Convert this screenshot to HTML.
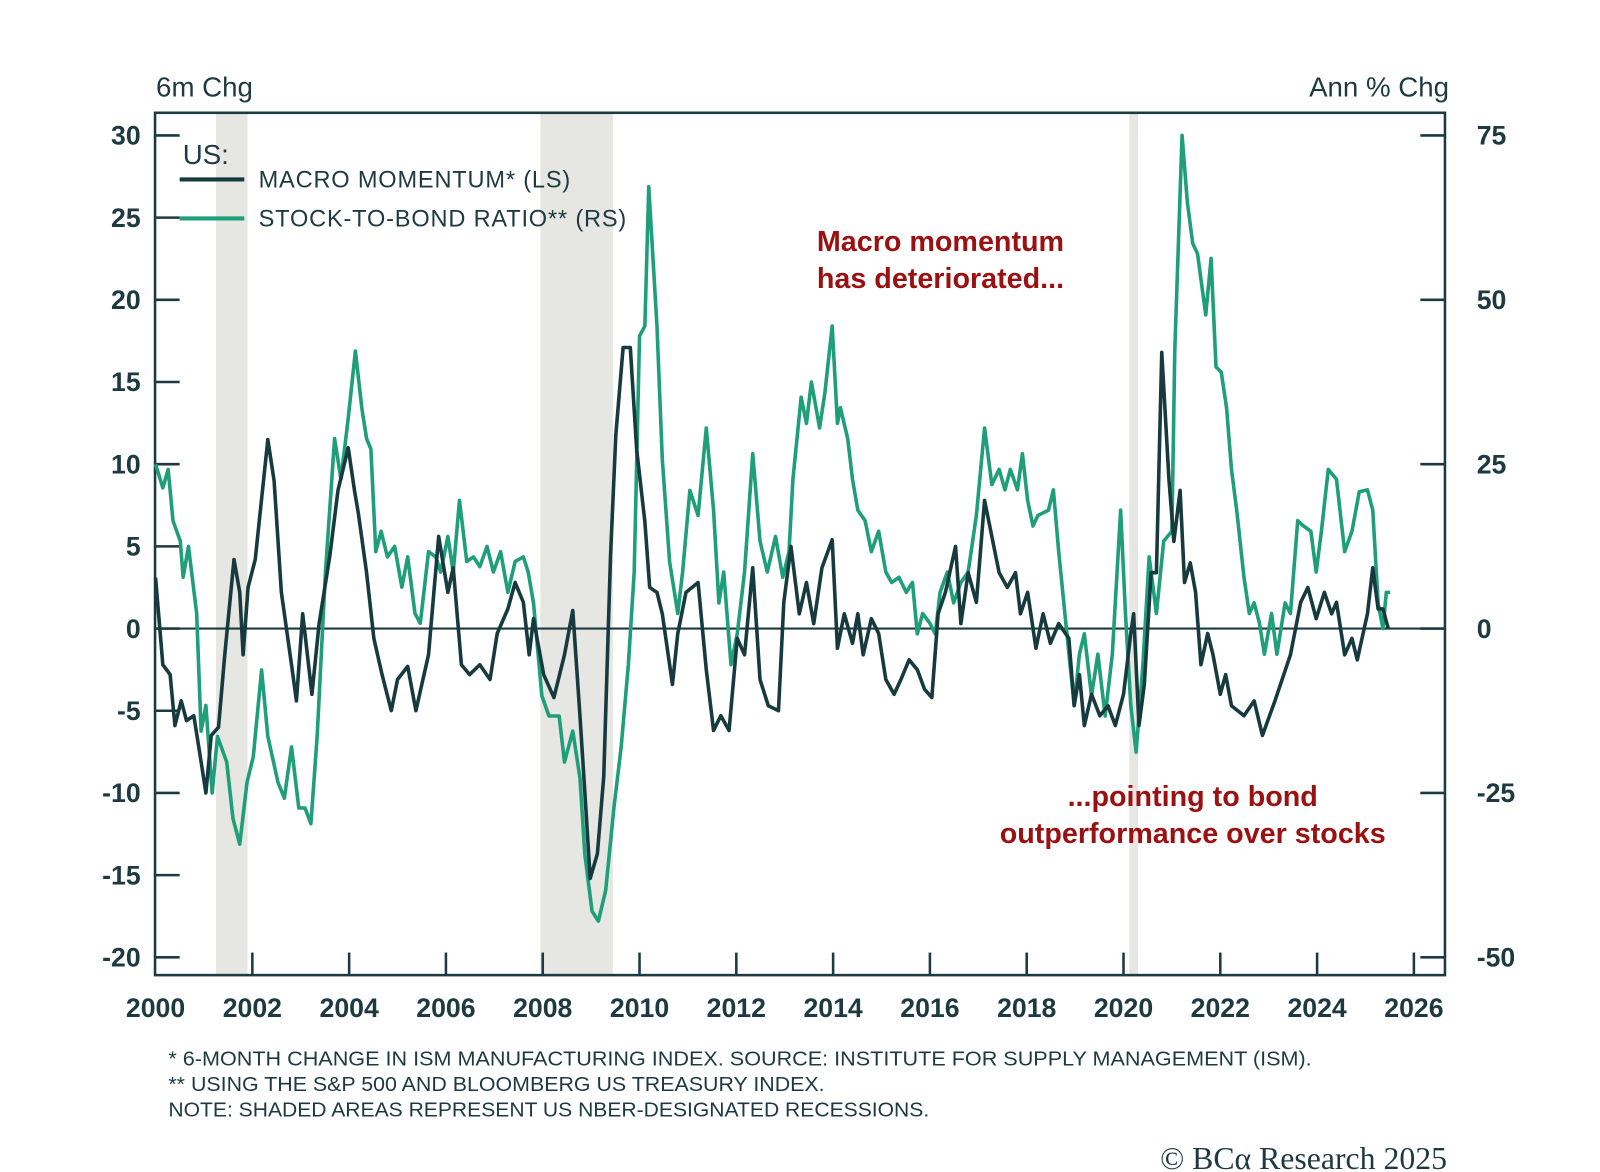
<!DOCTYPE html>
<html><head><meta charset="utf-8"><style>
html,body{margin:0;padding:0;background:#fff;}
svg{display:block;}
text{font-family:"Liberation Sans",sans-serif;}
</style></head><body>
<svg id="chart" width="1600" height="1172" viewBox="0 0 1560 1143" xmlns="http://www.w3.org/2000/svg">
<g id="rec"></g>
<g id="frame"></g>
<g id="lines"></g>
<text x="152" y="94" font-size="27" fill="#1e3a40">6m Chg</text>
<text x="1413" y="94" font-size="27" fill="#1e3a40" text-anchor="end">Ann % Chg</text>
<g>
<text x="178" y="160" font-size="27" fill="#1e3a40">US:</text>
<line x1="175" y1="175" x2="238" y2="175" stroke="#173a3f" stroke-width="4"/>
<text x="252" y="183" font-size="23" letter-spacing="0.8" fill="#1e3a40">MACRO MOMENTUM* (LS)</text>
<line x1="175" y1="213" x2="238" y2="213" stroke="#1f9e7a" stroke-width="4"/>
<text x="252" y="221" font-size="23" letter-spacing="0.8" fill="#1e3a40">STOCK-TO-BOND RATIO** (RS)</text>
</g>
<text x="917" y="245" font-size="28" font-weight="bold" fill="#9b1111" text-anchor="middle">Macro momentum</text>
<text x="917" y="281" font-size="28" font-weight="bold" fill="#9b1111" text-anchor="middle">has deteriorated...</text>
<text x="1163" y="786" font-size="28" font-weight="bold" fill="#9b1111" text-anchor="middle">...pointing to bond</text>
<text x="1163" y="822" font-size="28" font-weight="bold" fill="#9b1111" text-anchor="middle">outperformance over stocks</text>
<g font-size="19.5" fill="#1e3a40">
<text x="164" y="1039" textLength="1115" lengthAdjust="spacingAndGlyphs">* 6-MONTH CHANGE IN ISM MANUFACTURING INDEX. SOURCE: INSTITUTE FOR SUPPLY MANAGEMENT (ISM).</text>
<text x="164" y="1064" textLength="640" lengthAdjust="spacingAndGlyphs">** USING THE S&amp;P 500 AND BLOOMBERG US TREASURY INDEX.</text>
<text x="164" y="1089" textLength="742" lengthAdjust="spacingAndGlyphs">NOTE: SHADED AREAS REPRESENT US NBER-DESIGNATED RECESSIONS.</text>
</g>
<text x="1411" y="1140" font-size="31" fill="#1e3a40" text-anchor="end" style="font-family:'Liberation Serif',serif">© BCα Research 2025</text>
</svg>
<script>
const macroDates=[2000.00,2000.15,2000.30,2000.40,2000.53,2000.64,2000.79,2000.94,2001.04,2001.15,2001.30,2001.43,2001.62,2001.74,2001.81,2001.91,2002.06,2002.32,2002.45,2002.60,2002.81,2002.91,2003.04,2003.23,2003.38,2003.60,2003.77,2003.98,2004.11,2004.19,2004.36,2004.51,2004.68,2004.87,2005.00,2005.21,2005.38,2005.64,2005.85,2006.04,2006.15,2006.32,2006.49,2006.70,2006.91,2007.06,2007.28,2007.43,2007.60,2007.72,2007.81,2008.02,2008.23,2008.45,2008.62,2008.77,2008.87,2008.98,2009.13,2009.26,2009.40,2009.51,2009.66,2009.81,2009.94,2010.11,2010.21,2010.36,2010.47,2010.68,2010.79,2010.96,2011.21,2011.38,2011.53,2011.68,2011.85,2012.02,2012.17,2012.34,2012.49,2012.66,2012.87,2012.98,2013.13,2013.30,2013.45,2013.60,2013.77,2013.98,2014.09,2014.23,2014.40,2014.51,2014.62,2014.79,2014.94,2015.09,2015.26,2015.40,2015.57,2015.74,2015.89,2016.04,2016.17,2016.32,2016.53,2016.64,2016.79,2016.96,2017.13,2017.28,2017.43,2017.60,2017.77,2017.87,2018.02,2018.19,2018.34,2018.49,2018.66,2018.87,2018.98,2019.09,2019.19,2019.34,2019.51,2019.68,2019.83,2020.00,2020.15,2020.21,2020.32,2020.43,2020.57,2020.68,2020.79,2020.94,2021.04,2021.17,2021.26,2021.38,2021.49,2021.60,2021.74,2021.85,2022.00,2022.11,2022.23,2022.49,2022.70,2022.87,2023.13,2023.45,2023.66,2023.81,2023.98,2024.15,2024.30,2024.40,2024.57,2024.72,2024.83,2025.04,2025.15,2025.26,2025.36,2025.47];
const macroValues=[3.1,-2.2,-2.8,-5.9,-4.4,-5.6,-5.3,-8.1,-10,-6.5,-6,-1.6,4.2,2.2,-1.6,2.5,4.2,11.5,9,2.2,-2.2,-4.4,0.9,-4,0.3,4.4,8.4,11,8.4,7,3.4,-0.6,-2.8,-5,-3.1,-2.3,-5,-1.6,5.6,2.2,3.7,-2.2,-2.8,-2.2,-3.1,-0.3,1.2,2.8,1.6,-1.6,0.6,-2.8,-4.2,-1.6,1.1,-5.3,-10,-15.2,-13.7,-9,4.4,11.8,17.1,17.1,10.9,6.5,2.5,2.2,0.9,-3.4,-0.3,2.2,2.8,-2.5,-6.2,-5.3,-6.2,-0.6,-1.6,3.7,-3.1,-4.7,-5,1.6,5,0.9,2.8,0.3,3.7,5.4,-1.2,0.9,-0.9,0.9,-1.6,0.6,-0.3,-3.1,-4,-3.1,-1.9,-2.5,-3.7,-4.2,0.9,2.2,5,0.3,3.4,1.6,7.8,5.6,3.4,2.5,3.4,0.9,2.2,-1.2,0.9,-0.9,0.3,-0.6,-4.7,-2.8,-5.9,-4,-5.3,-4.7,-5.9,-4,-0.3,0.9,-5.9,-3.4,3.4,3.4,16.8,9,5.3,8.4,2.8,4,2.2,-2.2,-0.3,-1.6,-4,-2.8,-4.7,-5.3,-4.4,-6.5,-4.4,-1.6,1.6,2.5,0.6,2.2,0.9,1.6,-1.6,-0.6,-1.9,0.9,3.7,1.2,1.2,0];
const ratioDates=[2000.00,2000.15,2000.26,2000.36,2000.51,2000.57,2000.68,2000.85,2000.94,2001.04,2001.17,2001.28,2001.47,2001.60,2001.74,2001.89,2002.02,2002.19,2002.32,2002.53,2002.66,2002.81,2002.96,2003.09,2003.21,2003.34,2003.51,2003.70,2003.83,2003.98,2004.13,2004.26,2004.36,2004.45,2004.55,2004.66,2004.79,2004.94,2005.09,2005.21,2005.36,2005.47,2005.64,2005.79,2005.89,2006.04,2006.15,2006.28,2006.43,2006.57,2006.70,2006.85,2006.98,2007.13,2007.28,2007.43,2007.60,2007.70,2007.81,2007.98,2008.13,2008.34,2008.45,2008.62,2008.77,2008.87,2009.02,2009.15,2009.30,2009.47,2009.62,2009.77,2009.89,2010.00,2010.11,2010.19,2010.36,2010.47,2010.62,2010.79,2010.89,2011.04,2011.21,2011.38,2011.53,2011.64,2011.74,2011.89,2012.02,2012.17,2012.34,2012.49,2012.64,2012.81,2012.96,2013.09,2013.17,2013.34,2013.45,2013.55,2013.72,2013.83,2013.98,2014.09,2014.15,2014.30,2014.40,2014.51,2014.66,2014.79,2014.94,2015.09,2015.21,2015.36,2015.51,2015.64,2015.74,2015.85,2016.00,2016.11,2016.21,2016.36,2016.49,2016.64,2016.79,2016.96,2017.13,2017.28,2017.43,2017.55,2017.66,2017.81,2017.91,2018.02,2018.13,2018.23,2018.45,2018.55,2018.66,2018.83,2018.98,2019.09,2019.19,2019.34,2019.47,2019.62,2019.77,2019.94,2020.04,2020.15,2020.26,2020.40,2020.53,2020.68,2020.83,2021.00,2021.06,2021.21,2021.32,2021.43,2021.53,2021.70,2021.81,2021.91,2022.02,2022.13,2022.23,2022.34,2022.49,2022.60,2022.70,2022.81,2022.91,2023.06,2023.17,2023.34,2023.45,2023.60,2023.72,2023.87,2023.98,2024.09,2024.23,2024.40,2024.57,2024.72,2024.87,2025.04,2025.15,2025.26,2025.36,2025.43,2025.51];
const ratioValues=[25,21.4,24.2,16.4,13.3,7.8,12.5,2.3,-15.6,-11.7,-25,-16.4,-20.3,-28.9,-32.8,-23.4,-19.5,-6.3,-16.4,-23.4,-25.8,-18,-27.3,-27.3,-29.7,-16.4,8.6,28.9,22.7,32,42.2,33.6,28.9,27.3,11.7,14.8,10.9,12.5,6.3,10.9,2.3,0.8,11.7,10.9,8.6,14,8.6,19.5,10.2,10.9,9.4,12.5,8.6,11.7,5.5,10.2,10.9,8.6,3.9,-10.2,-13.3,-13.3,-20.3,-15.6,-22.7,-34.4,-43,-44.5,-39.8,-27.3,-18,-5.5,8.6,44.5,46,67.2,46,25.8,10.2,2.3,8.6,21,17.2,30.5,18,3.9,8.6,-5.5,-0.8,8.6,26.6,13.3,8.6,14,7.8,11.7,22.7,35.2,31.2,37.5,30.5,35.9,46,31.2,33.6,28.9,22.7,18,16.4,11.7,14.8,8.6,7,7.8,5.5,7,-0.8,2.3,0.8,-0.8,5.5,8.6,3.9,7,8.6,17.2,30.5,21.9,24.2,21.1,24.2,21.1,26.6,19.5,15.6,17.2,18,21.1,11.7,-0.8,-11.7,-3.9,-0.8,-10.2,-3.9,-13.3,-3.9,18,2.3,-11.7,-18.8,-5.5,10.9,2.3,13.3,14.8,42.2,75,64.8,58.6,57,47.7,56.3,39.8,39,33.6,24.2,18,7.8,2.3,3.9,0.8,-3.9,2.3,-3.9,3.9,2.3,16.4,15.6,14.8,8.6,14.8,24.2,22.7,11.7,14.8,20.8,21.1,18,3.9,0,5.5,5.5];
const leftTicks=[30,25,20,15,10,5,0,-5,-10,-15,-20];
const rightTicks=[75,50,25,0,-25,-50];
const xTicks=[2000,2002,2004,2006,2008,2010,2012,2014,2016,2018,2020,2022,2024,2026];
const recessionStarts=[2001.25,2007.95,2020.12];
const recessionEnds=[2001.9,2009.45,2020.3];

const NS="http://www.w3.org/2000/svg";
const L=151,R=1409,T=110,B=951;
const X0=151.5,PX_PER_YR=47.2;
const xs=y=>X0+(y-2000)*PX_PER_YR;
const yL=v=>613-v*16.03;
const yR=v=>613-v*6.412;
const C="#1c3a40";
function mk(tag,attrs,parent){const e=document.createElementNS(NS,tag);for(const k in attrs)e.setAttribute(k,attrs[k]);parent.appendChild(e);return e;}
const rec=document.getElementById('rec');
recessionStarts.forEach((s,i)=>{const r=mk('rect',{x:xs(s),y:T,width:xs(recessionEnds[i])-xs(s),height:B-T,fill:'#e6e6e2'},rec);

});
const fr=document.getElementById('frame');
const box=mk('rect',{x:L,y:T,width:R-L,height:B-T,fill:'none',stroke:C,'stroke-width':2.5},fr);


const zl=mk('line',{x1:L,x2:R,y1:yL(0),y2:yL(0),stroke:C,'stroke-width':2},fr);


leftTicks.forEach(v=>{const y=yL(v);
mk('line',{x1:L,x2:L+24,y1:y,y2:y,stroke:C,'stroke-width':2.5},fr);
const t=mk('text',{x:137,y:y+9,'font-size':26,fill:C,'text-anchor':'end','font-weight':'bold'},fr);t.textContent=v;

});
rightTicks.forEach(v=>{const y=yR(v);
mk('line',{x1:R-24,x2:R,y1:y,y2:y,stroke:C,'stroke-width':2.5},fr);
const t=mk('text',{x:1440,y:y+9,'font-size':26,fill:C,'font-weight':'bold'},fr);t.textContent=v;

});
xTicks.forEach(v=>{const x=xs(v);
if(v>2000)mk('line',{x1:x,x2:x,y1:B-22,y2:B,stroke:C,'stroke-width':2.5},fr);
const t=mk('text',{x:x,y:992,'font-size':26,fill:C,'text-anchor':'middle','font-weight':'bold'},fr);t.textContent=v;

});
const lg=document.getElementById('lines');
const p2=mk('polyline',{points:ratioDates.map((d,i)=>xs(d).toFixed(1)+','+yR(ratioValues[i]).toFixed(1)).join(' '),fill:'none',stroke:'#1f9e7a','stroke-width':3.5,'stroke-linejoin':'round'},lg);


const p1=mk('polyline',{points:macroDates.map((d,i)=>xs(d).toFixed(1)+','+yL(macroValues[i]).toFixed(1)).join(' '),fill:'none',stroke:'#173a3f','stroke-width':3.5,'stroke-linejoin':'round'},lg);


</script>
</body></html>
